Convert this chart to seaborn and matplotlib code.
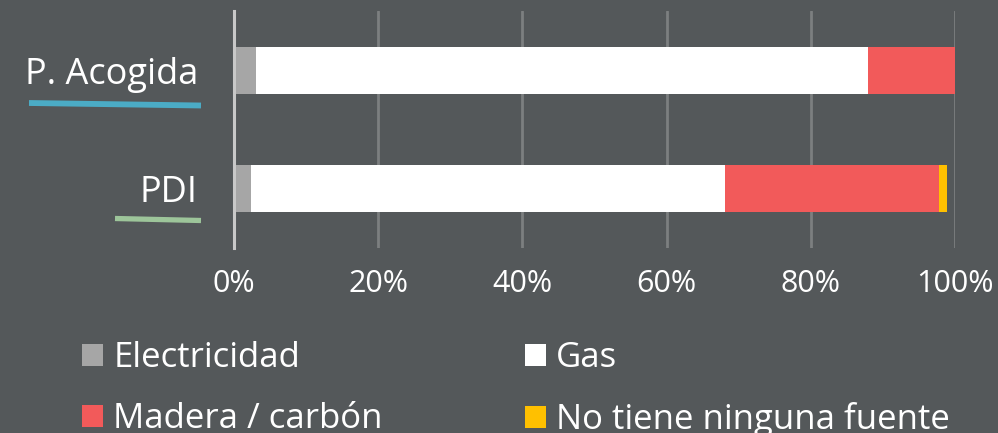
import matplotlib
matplotlib.use("Agg")
import matplotlib.pyplot as plt
import seaborn as sns
import pandas as pd
import numpy as np
from matplotlib.patches import Patch
from matplotlib.lines import Line2D

categories = ["P. Acogida", "PDI"]
series_names = ["Electricidad", "Gas", "Madera / carbón", "No tiene ninguna fuente"]
electricidad = [3.0, 2.3]
gas = [84.9, 65.8]
madera = [12.1, 29.7]
no_tiene = [0.0, 1.1]
tick_labels = ["0%", "20%", "40%", "60%", "80%", "100%"]

colors = ["#a6a6a6", "#ffffff", "#f25a5a", "#ffc000"]
underline_colors = ["#4bacc6", "#9dc59a"]
BG = "#54585a"
FONT = ["Open Sans", "DejaVu Sans"]

sns.set_theme(style="white")
plt.rcParams["font.family"] = FONT

values = np.array([electricidad, gas, madera, no_tiene])
cums = np.cumsum(values, axis=0)
rows = []
for si, name in enumerate(series_names):
    for ci, cat in enumerate(categories):
        rows.append({"cat": cat, "serie": name, "end": cums[si, ci]})
df = pd.DataFrame(rows)

fig = plt.figure(figsize=(9.98, 4.33), dpi=100, facecolor=BG)
W, H = 998, 433
ax = fig.add_axes([234 / W, 1 - 248 / H, (955 - 234) / W, (248 - 11) / H])
ax.set_facecolor(BG)

for si in range(len(series_names) - 1, -1, -1):
    sub = df[df["serie"] == series_names[si]]
    sns.barplot(data=sub, x="end", y="cat", order=categories, orient="h",
                color=colors[si], width=0.4, saturation=1, ax=ax,
                edgecolor="none", linewidth=0)

ax.set_xlim(0, 100)
ax.set_ylim(1.5, -0.5)
ax.set_xticks(np.arange(0, 101, 20))
ax.set_xticklabels(tick_labels)
ax.set_xlabel("")
ax.set_ylabel("")
for x in np.arange(20, 101, 20):
    ax.axvline(x, color="#7c7f80", lw=2, zorder=0)
ax.set_axisbelow(True)
for s in ["top", "right", "bottom"]:
    ax.spines[s].set_visible(False)
ax.spines["left"].set_color("#c8c8c8")
ax.spines["left"].set_linewidth(2.2)
ax.tick_params(axis="x", length=0, pad=15, labelsize=22, labelcolor="white")
ax.tick_params(axis="y", length=0, pad=26, labelsize=26, labelcolor="white")
for lab in ax.get_xticklabels() + ax.get_yticklabels():
    lab.set_family(FONT)

# underlines below category labels
fig.add_artist(Line2D([29 / W, 201 / W], [1 - 103 / H, 1 - 105.5 / H],
                      transform=fig.transFigure, color=underline_colors[0], lw=4.2,
                      solid_capstyle="butt"))
fig.add_artist(Line2D([115 / W, 201 / W], [1 - 218.5 / H, 1 - 220.5 / H],
                      transform=fig.transFigure, color=underline_colors[1], lw=3.8,
                      solid_capstyle="butt"))

handles = [Patch(facecolor=colors[i], edgecolor="none", label=series_names[i])
           for i in [0, 2, 1, 3]]
leg = fig.legend(handles=handles, ncol=2, loc="upper left",
                 bbox_to_anchor=(82 / W, 1 - 341 / H), frameon=False,
                 prop={"family": FONT, "size": 25}, labelcolor="white",
                 handlelength=0.6, handleheight=0.6, handletextpad=0.3,
                 columnspacing=4.1, labelspacing=0.78, borderaxespad=0,
                 borderpad=0)

fig.savefig("out.png", dpi=100, facecolor=BG)
